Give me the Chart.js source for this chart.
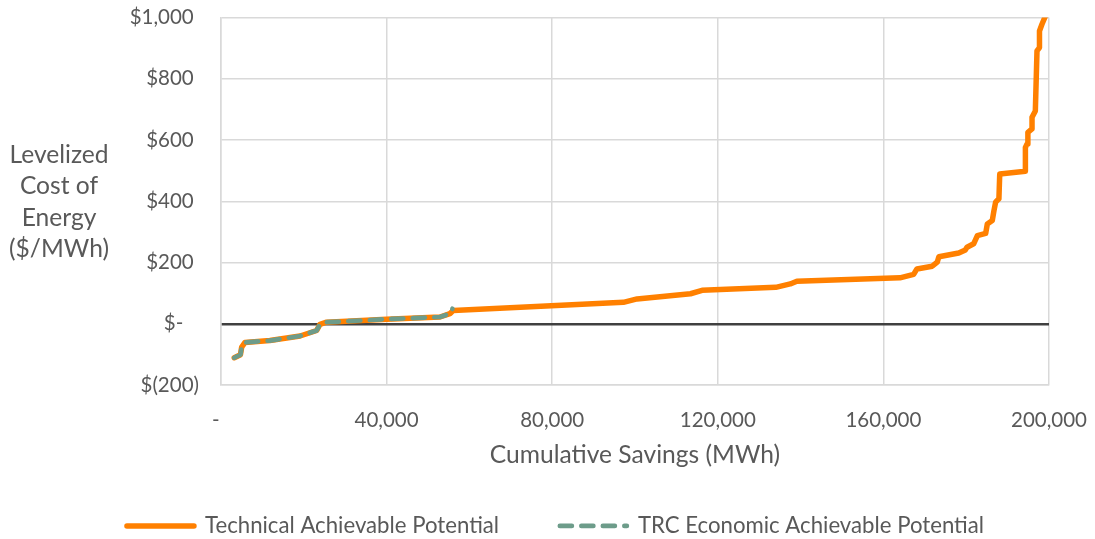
<!DOCTYPE html>
<html>
<head>
<meta charset="utf-8">
<script src="https://cdn.jsdelivr.net/npm/chart.js@4.4.1/dist/chart.umd.min.js"></script>
<style>
    html, body { margin: 0; padding: 0; background: #ffffff; }
    #wrap { width: 1095px; height: 539px; position: relative; }
</style>
</head>
<body>
<div id="wrap"><canvas id="supplyCurve"></canvas></div>
<script>
// Supply curve: cumulative savings (MWh) vs levelized cost ($/MWh)
const techSavings = [3200, 4700, 5000, 5800, 11800, 19100, 23100, 23900, 25500, 40000, 52900, 55300, 56100,
    97200, 100500, 113400, 116200, 134000, 137500, 139100, 164000, 167300, 168100, 171800, 173000, 173400,
    178200, 179800, 180200, 181800, 182700, 184700, 185100, 186300, 186700, 187100, 187900, 188100, 194300,
    194300, 194700, 194900, 195900, 195900, 196700, 197100, 197700, 197700, 198300, 199300];
const techCost = [-111, -101, -76, -61, -55, -40, -22, -2, 5, 15, 22, 33, 43,
    70, 81, 98, 109, 119, 130, 139, 150, 161, 179, 188, 201, 219,
    231, 241, 250, 261, 288, 295, 326, 337, 369, 397, 408, 489, 498,
    576, 587, 625, 636, 674, 695, 891, 902, 956, 978, 1010];

const trcSavings = [3200, 4700, 5000, 5800, 11800, 19100, 23100, 23900, 25500, 40000, 52900, 55300, 55900];
const trcCost = [-111, -101, -76, -61, -55, -40, -22, -2, 5, 15, 22, 33, 49];

const savingsTicks = [0, 40000, 80000, 120000, 160000, 200000];
const costTicks = [-200, 0, 200, 400, 600, 800, 1000];
const yTitleLines = ['Levelized', 'Cost of', 'Energy', '($/MWh)'];

const textColor = '#595959';
const gridColor = '#d9d9d9';
const fontFamily = 'Lato, "Open Sans", sans-serif';
const legendGap = '          ';
const leftPad = 62;

function toPoints(xs, ys) {
    return xs.map((x, i) => ({ x: x, y: ys[i] }));
}

function formatCost(v) {
    if (v === 0) return '$-   ';
    if (v < 0) return '$(' + Math.abs(v).toLocaleString('en-US') + ')';
    return '$' + v.toLocaleString('en-US') + ' ';
}

// legend entries drawn as short line samples with the dataset's own dash
function legendLabels(chart) {
    const items = Chart.defaults.plugins.legend.labels.generateLabels(chart);
    items.forEach(item => {
        const ds = chart.data.datasets[item.datasetIndex];
        item.pointStyle = 'line';
        item.strokeStyle = ds.borderColor;
        item.lineWidth = ds.borderWidth;
        item.lineDash = ds.borderDash || [];
        item.lineDashOffset = 0;
        item.lineCap = ds.borderCapStyle;
        if (item.datasetIndex === 0) item.text += legendGap;
    });
    return items;
}

// horizontal, multi-line y-axis title (Chart.js only draws it rotated)
const yTitlePlugin = {
    id: 'yTitle',
    afterDraw(chart) {
        const ctx = chart.ctx;
        ctx.save();
        ctx.font = '24.6px ' + fontFamily;
        ctx.fillStyle = textColor;
        ctx.textAlign = 'center';
        ctx.textBaseline = 'middle';
        yTitleLines.forEach((line, i) => {
            ctx.fillText(line, 59, 155 + i * 31.3);
        });
        ctx.restore();
    }
};

// keep the plot area fixed by layout padding alone
function dropLabelPadding(scale) {
    scale.paddingTop = 0;
    scale.paddingBottom = 0;
    scale.paddingLeft = 0;
    scale.paddingRight = 0;
}

new Chart(document.getElementById('supplyCurve'), {
    type: 'line',
    data: {
        datasets: [{
            label: 'Technical Achievable Potential',
            data: toPoints(techSavings, techCost),
            borderColor: '#ff8000',
            backgroundColor: '#ff8000',
            borderWidth: 5.5,
            borderJoinStyle: 'round',
            borderCapStyle: 'round',
            pointRadius: 0,
            tension: 0,
            order: 1
        }, {
            label: 'TRC Economic Achievable Potential',
            data: toPoints(trcSavings, trcCost),
            borderColor: '#6d9c8a',
            backgroundColor: '#6d9c8a',
            borderWidth: 4.7,
            borderDash: [12, 9.5],
            borderJoinStyle: 'round',
            borderCapStyle: 'round',
            pointRadius: 0,
            tension: 0,
            order: 0
        }]
    },
    options: {
        responsive: true,
        maintainAspectRatio: false,
        animation: false,
        layout: {
            padding: { left: leftPad, right: 46, top: 17.5, bottom: -8 }
        },
        plugins: {
            legend: {
                position: 'bottom',
                labels: {
                    usePointStyle: true,
                    pointStyle: 'line',
                    pointStyleWidth: 67,
                    padding: 4,
                    color: textColor,
                    font: { family: fontFamily, size: 22.2 },
                    generateLabels: legendLabels,
                    sort: (a, b) => a.datasetIndex - b.datasetIndex
                }
            },
            tooltip: { enabled: false }
        },
        scales: {
            x: {
                type: 'linear',
                min: 0,
                max: 200000,
                afterBuildTicks: (scale) => {
                    scale.ticks = savingsTicks.map(v => ({ value: v }));
                },
                afterFit: (scale) => {
                    scale.height = 125.8;
                    dropLabelPadding(scale);
                },
                ticks: {
                    color: textColor,
                    font: { family: fontFamily, size: 20.5 },
                    padding: 23,
                    maxRotation: 0,
                    callback: (v) => v === 0 ? '-  ' : v.toLocaleString('en-US')
                },
                grid: {
                    color: gridColor,
                    lineWidth: 1.5,
                    drawTicks: false
                },
                border: { color: gridColor, width: 1.5 },
                title: {
                    display: true,
                    text: 'Cumulative Savings (MWh)',
                    color: textColor,
                    font: { family: fontFamily, size: 24.6 },
                    padding: { top: 0, bottom: 41 }
                }
            },
            y: {
                min: -200,
                max: 1000,
                afterBuildTicks: (scale) => {
                    scale.ticks = costTicks.map(v => ({ value: v }));
                },
                afterFit: (scale) => {
                    scale.width = 221 - leftPad;
                    dropLabelPadding(scale);
                },
                ticks: {
                    color: textColor,
                    font: { family: fontFamily, size: 20.5 },
                    padding: 22,
                    callback: formatCost
                },
                grid: {
                    color: (c) => c.tick && c.tick.value === 0 ? '#404040' : gridColor,
                    lineWidth: (c) => c.tick && c.tick.value === 0 ? 2.5 : 1.5,
                    drawTicks: false
                },
                border: { color: gridColor, width: 1.5 }
            }
        }
    },
    plugins: [yTitlePlugin]
});
</script>
</body>
</html>
